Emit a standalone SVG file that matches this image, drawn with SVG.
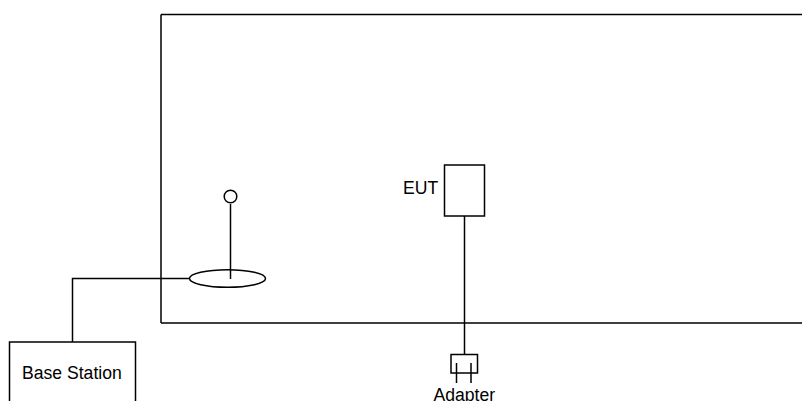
<svg xmlns="http://www.w3.org/2000/svg" width="802" height="401" viewBox="0 0 802 401">
<style>
.s{fill:none;stroke:#000;stroke-width:1.5}
.w{fill:#fff;stroke:#000;stroke-width:1.5}
text{font-family:"Liberation Sans",Arial,sans-serif;font-size:17.6px;fill:#000}
</style>
<rect width="802" height="401" fill="#fff"/>
<g id="connectors">
<path class="s" d="M161 14.500H802M161 323H802M161 14.500V323"/>
<path class="s" d="M72.500 342V278.500H190"/>
<path class="s" d="M230.500 204V279"/>
<path class="s" d="M464.500 216V354"/>
</g>
<g id="antenna">
<circle class="w" cx="230.500" cy="196.500" r="6.300"/>
<ellipse class="s" cx="227.500" cy="278.500" rx="38" ry="8.700"/>
</g>
<g id="eut">
<rect class="s" x="444.500" y="165" width="40" height="51"/>
<text x="403" y="193.500">EUT</text>
</g>
<g id="adapter">
<rect class="s" x="451" y="354.500" width="26.500" height="18.500"/>
<path class="s" d="M456.500 363V383M471 363V383"/>
<text x="433.500" y="400.500">Adapter</text>
</g>
<g id="base-station">
<path class="s" d="M9.500 401V342H135.500V401"/>
<text x="22" y="379">Base Station</text>
</g>
</svg>
